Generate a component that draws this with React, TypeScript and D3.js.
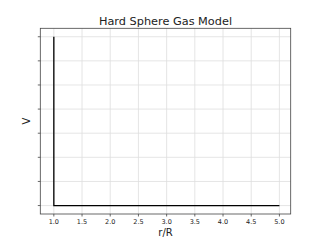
import React from "react";
import * as d3 from "d3";

const rValues = [1.0, 1.0, 5.0];
const vValues = [7, 0, 0];
const xTicks = [1.0, 1.5, 2.0, 2.5, 3.0, 3.5, 4.0, 4.5, 5.0];
const yTicks = [0, 1, 2, 3, 4, 5, 6, 7];
const xDomain = [0.76, 5.2];
const yDomain = [-0.35, 7.35];
const title = "Hard Sphere Gas Model";
const xLabel = "r/R";
const yLabel = "V";

export default function App() {
  const W = 323, H = 240;
  const left = 40.3, right = 290.7, top = 28.3, bottom = 214;
  const x = d3.scaleLinear().domain(xDomain).range([left, right]);
  const y = d3.scaleLinear().domain(yDomain).range([bottom, top]);
  const line = d3.line<number>().x((_, i) => x(rValues[i])).y((_, i) => y(vValues[i]));
  const font = "DejaVu Sans, sans-serif";
  return (
    <svg width={W} height={H} style={{ position: "absolute", left: 0, top: 0, background: "#fff" }}>
      {xTicks.map((t) => (
        <line key={"gx" + t} x1={x(t)} x2={x(t)} y1={top} y2={bottom} stroke="#dedede" strokeWidth={0.8} />
      ))}
      {yTicks.map((t) => (
        <line key={"gy" + t} x1={left} x2={right} y1={y(t)} y2={y(t)} stroke="#dedede" strokeWidth={0.8} />
      ))}
      <path d={line(rValues) || ""} fill="none" stroke="#000" strokeWidth={1.3} />
      <rect x={left} y={top} width={right - left} height={bottom - top} fill="none" stroke="#444" strokeWidth={0.8} />
      {xTicks.map((t) => (
        <g key={"tx" + t}>
          <line x1={x(t)} x2={x(t)} y1={bottom} y2={bottom + 2.5} stroke="#444" strokeWidth={0.8} />
          <text x={x(t)} y={223.5} fontSize={6.5} fontFamily={font} textAnchor="middle" fill="#222">
            {t.toFixed(1)}
          </text>
        </g>
      ))}
      {yTicks.map((t) => (
        <line key={"ty" + t} x1={left - 2.5} x2={left} y1={y(t)} y2={y(t)} stroke="#444" strokeWidth={0.8} />
      ))}
      <text x={165.5} y={25} fontSize={11.3} fontFamily={font} textAnchor="middle" fill="#222">
        {title}
      </text>
      <text x={165.5} y={235.5} fontSize={10} fontFamily={font} textAnchor="middle" fill="#222">
        {xLabel}
      </text>
      <text transform="translate(30.3,121) rotate(-90)" fontSize={10} fontFamily={font} textAnchor="middle" fill="#222">
        {yLabel}
      </text>
    </svg>
  );
}
